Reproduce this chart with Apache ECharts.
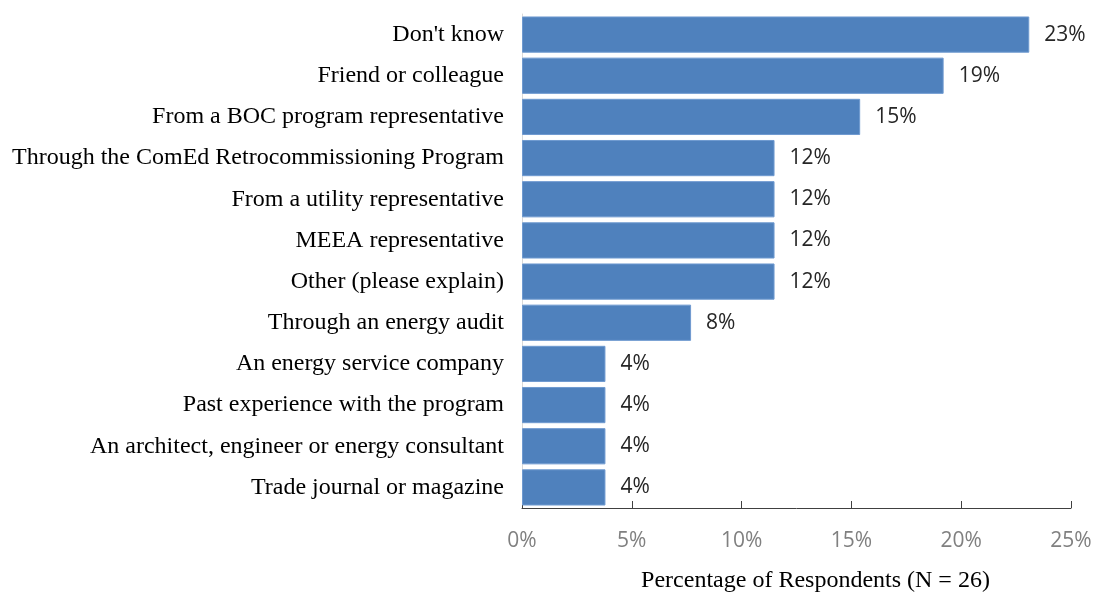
<!DOCTYPE html>
<html>
<head>
<meta charset="utf-8">
<script src="https://cdn.jsdelivr.net/npm/echarts@6/dist/echarts.min.js"></script>
<style>
  html, body { margin: 0; padding: 0; background: #fff; }
  #chart { width: 1093px; height: 595px; }
</style>
</head>
<body>
<div id="chart"></div>
<script>
// How respondents heard about the program (share of N = 26)
const categories = [
  "Don't know",
  "Friend or colleague",
  "From a BOC program representative",
  "Through the ComEd Retrocommissioning Program",
  "From a utility representative",
  "MEEA representative",
  "Other (please explain)",
  "Through an energy audit",
  "An energy service company",
  "Past experience with the program",
  "An architect, engineer or energy consultant",
  "Trade journal or magazine"
];
const percentValues = [23.1, 19.2, 15.4, 11.5, 11.5, 11.5, 11.5, 7.7, 3.8, 3.8, 3.8, 3.8];
const xTicks = [0, 5, 10, 15, 20, 25];
const axisTitle = "Percentage of Respondents (N = 26)";

const chart = echarts.init(document.getElementById('chart'), null, { renderer: 'canvas' });
chart.setOption({
  animation: false,
  backgroundColor: '#ffffff',
  grid: {
    left: 522, right: 22, top: 14, bottom: 87,
    containLabel: false,
    outerBoundsMode: 'none'
  },
  xAxis: {
    type: 'value',
    min: xTicks[0],
    max: xTicks[xTicks.length - 1],
    interval: 5,
    name: axisTitle,
    nameLocation: 'middle',
    nameGap: 61,
    nameTextStyle: {
      fontFamily: 'Liberation Serif',
      fontSize: 24,
      color: '#000',
      padding: [0, 0, 0, 38]
    },
    axisLine: { show: true, lineStyle: { color: '#404040', width: 1 } },
    axisTick: { show: true, inside: true, length: 7, lineStyle: { color: '#404040' } },
    axisLabel: {
      margin: 23,
      fontFamily: 'Open Sans',
      fontSize: 21,
      color: '#808080',
      formatter: v => v + '%'
    },
    splitLine: { show: false }
  },
  yAxis: {
    type: 'category',
    data: categories,
    inverse: true,
    axisLine: { show: true, lineStyle: { color: '#d9d9d9', width: 1 } },
    axisTick: { show: false },
    axisLabel: {
      margin: 18,
      fontFamily: 'Liberation Serif',
      fontSize: 24,
      color: '#000'
    }
  },
  series: [{
    type: 'bar',
    data: percentValues,
    barCategoryGap: '12%',
    itemStyle: { color: '#4f81bd', borderColor: '#6f9ad0', borderWidth: 1 },
    label: {
      show: true,
      position: 'right',
      distance: 15,
      fontFamily: 'Open Sans',
      fontSize: 21,
      color: '#262626',
      formatter: p => Math.round(p.value) + '%'
    }
  }]
});
</script>
</body>
</html>
